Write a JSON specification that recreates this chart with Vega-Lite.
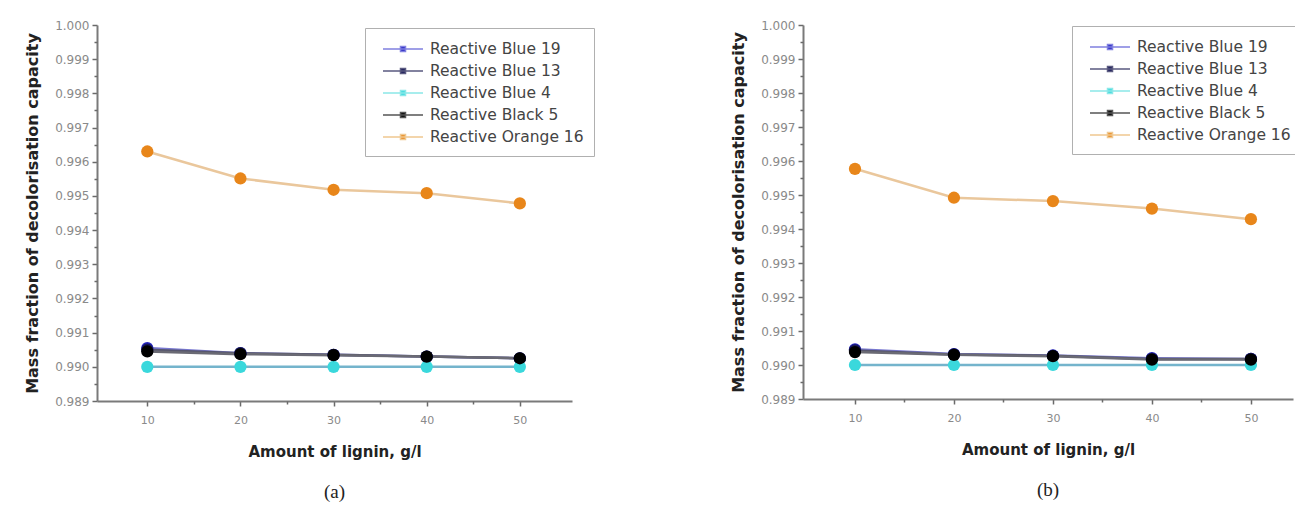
{
  "$schema": "https://vega.github.io/schema/vega-lite/v6.json",
  "padding": {"left": 24, "top": 19, "right": 0, "bottom": 0},
  "background": "white",
  "spacing": 135,
  "config": {
    "view": {"stroke": null},
    "font": "DejaVu Sans",
    "axis": {
      "domainColor": "#7a7a7a",
      "domainWidth": 2,
      "tickColor": "#6a6a6a",
      "tickWidth": 1.5,
      "grid": false,
      "labelFont": "DejaVu Sans",
      "labelColor": "#8a8a8a",
      "labelFontSize": 12,
      "titleFont": "DejaVu Sans",
      "titleColor": "#222222",
      "titleFontWeight": "bold"
    }
  },
  "datasets": {
    "a": [
      {"lignin": 10, "dye": "Reactive Blue 19", "value": 0.99055},
      {"lignin": 20, "dye": "Reactive Blue 19", "value": 0.9904},
      {"lignin": 30, "dye": "Reactive Blue 19", "value": 0.99035},
      {"lignin": 40, "dye": "Reactive Blue 19", "value": 0.9903},
      {"lignin": 50, "dye": "Reactive Blue 19", "value": 0.99025},
      {"lignin": 10, "dye": "Reactive Blue 13", "value": 0.9905},
      {"lignin": 20, "dye": "Reactive Blue 13", "value": 0.9904},
      {"lignin": 30, "dye": "Reactive Blue 13", "value": 0.99035},
      {"lignin": 40, "dye": "Reactive Blue 13", "value": 0.9903},
      {"lignin": 50, "dye": "Reactive Blue 13", "value": 0.99025},
      {"lignin": 10, "dye": "Reactive Blue 4", "value": 0.99},
      {"lignin": 20, "dye": "Reactive Blue 4", "value": 0.99},
      {"lignin": 30, "dye": "Reactive Blue 4", "value": 0.99},
      {"lignin": 40, "dye": "Reactive Blue 4", "value": 0.99},
      {"lignin": 50, "dye": "Reactive Blue 4", "value": 0.99},
      {"lignin": 10, "dye": "Reactive Black 5", "value": 0.99045},
      {"lignin": 20, "dye": "Reactive Black 5", "value": 0.99037},
      {"lignin": 30, "dye": "Reactive Black 5", "value": 0.99034},
      {"lignin": 40, "dye": "Reactive Black 5", "value": 0.9903},
      {"lignin": 50, "dye": "Reactive Black 5", "value": 0.99025},
      {"lignin": 10, "dye": "Reactive Orange 16", "value": 0.9963},
      {"lignin": 20, "dye": "Reactive Orange 16", "value": 0.99551},
      {"lignin": 30, "dye": "Reactive Orange 16", "value": 0.99518},
      {"lignin": 40, "dye": "Reactive Orange 16", "value": 0.99508},
      {"lignin": 50, "dye": "Reactive Orange 16", "value": 0.99478}
    ],
    "b": [
      {"lignin": 10, "dye": "Reactive Blue 19", "value": 0.99046},
      {"lignin": 20, "dye": "Reactive Blue 19", "value": 0.99032},
      {"lignin": 30, "dye": "Reactive Blue 19", "value": 0.99028},
      {"lignin": 40, "dye": "Reactive Blue 19", "value": 0.9902},
      {"lignin": 50, "dye": "Reactive Blue 19", "value": 0.99018},
      {"lignin": 10, "dye": "Reactive Blue 13", "value": 0.99043},
      {"lignin": 20, "dye": "Reactive Blue 13", "value": 0.99031},
      {"lignin": 30, "dye": "Reactive Blue 13", "value": 0.99027},
      {"lignin": 40, "dye": "Reactive Blue 13", "value": 0.99018},
      {"lignin": 50, "dye": "Reactive Blue 13", "value": 0.99018},
      {"lignin": 10, "dye": "Reactive Blue 4", "value": 0.99},
      {"lignin": 20, "dye": "Reactive Blue 4", "value": 0.99},
      {"lignin": 30, "dye": "Reactive Blue 4", "value": 0.99},
      {"lignin": 40, "dye": "Reactive Blue 4", "value": 0.99},
      {"lignin": 50, "dye": "Reactive Blue 4", "value": 0.99},
      {"lignin": 10, "dye": "Reactive Black 5", "value": 0.99038},
      {"lignin": 20, "dye": "Reactive Black 5", "value": 0.9903},
      {"lignin": 30, "dye": "Reactive Black 5", "value": 0.99026},
      {"lignin": 40, "dye": "Reactive Black 5", "value": 0.99016},
      {"lignin": 50, "dye": "Reactive Black 5", "value": 0.99016},
      {"lignin": 10, "dye": "Reactive Orange 16", "value": 0.99577},
      {"lignin": 20, "dye": "Reactive Orange 16", "value": 0.99492},
      {"lignin": 30, "dye": "Reactive Orange 16", "value": 0.99482},
      {"lignin": 40, "dye": "Reactive Orange 16", "value": 0.9946},
      {"lignin": 50, "dye": "Reactive Orange 16", "value": 0.99429}
    ]
  },
  "resolve": {"scale": {"color": "independent"}, "legend": {"color": "independent"}},
  "hconcat": [
    {
      "width": 475,
      "height": 376,
      "data": {"name": "a"},
      "title": {"text": "(a)", "orient": "bottom", "font": "Liberation Serif", "fontSize": 19, "fontWeight": "normal", "color": "#222222", "offset": 24},
      "resolve": {"axis": {"x": "independent", "y": "independent"}, "scale": {"color": "independent"}, "legend": {"color": "independent"}},
      "layer": [
        {
          "mark": {"type": "line", "strokeWidth": 2.5, "opacity": 1},
          "encoding": {
            "x": {"field": "lignin", "type": "quantitative", "scale": {"domain": [4.6, 55.6], "nice": false, "zero": false},
              "axis": {"values": [10, 20, 30, 40, 50], "title": "Amount of lignin, g/l", "titleFontSize": 15, "labelFontSize": 11, "labelPadding": 8, "titlePadding": 19, "tickSize": 5}},
            "y": {"field": "value", "type": "quantitative", "scale": {"domain": [0.989, 1.0], "nice": false, "zero": false},
              "axis": {"values": [0.989, 0.99, 0.991, 0.992, 0.993, 0.994, 0.995, 0.996, 0.997, 0.998, 0.999, 1.0], "format": ".3f", "title": "Mass fraction of decolorisation capacity", "titleFontSize": 16, "labelPadding": 3, "titlePadding": 14, "tickSize": 5}},
            "color": {"field": "dye", "type": "nominal", "legend": null,
              "scale": {"domain": ["Reactive Blue 19", "Reactive Blue 13", "Reactive Blue 4", "Reactive Black 5", "Reactive Orange 16"], "range": ["#7878d0", "#56566e", "#74b4cc", "#6a6a74", "#eac79c"]}}
          }
        },
        {
          "mark": {"type": "point", "filled": true, "shape": "circle", "size": 150, "opacity": 1},
          "encoding": {
            "x": {"field": "lignin", "type": "quantitative",
              "axis": {"orient": "bottom", "values": [15, 25, 35, 45], "labels": false, "domain": false, "title": null, "tickSize": 3}},
            "y": {"field": "value", "type": "quantitative",
              "axis": {"orient": "left", "values": [0.9895, 0.9905, 0.9915, 0.9925, 0.9935, 0.9945, 0.9955, 0.9965, 0.9975, 0.9985, 0.9995], "labels": false, "domain": false, "title": null, "tickSize": 3}},
            "color": {"field": "dye", "type": "nominal",
              "scale": {"domain": ["Reactive Blue 19", "Reactive Blue 13", "Reactive Blue 4", "Reactive Black 5", "Reactive Orange 16"], "range": ["#2424c0", "#181858", "#3ad8dc", "#000000", "#e8861a"]},
              "legend": {
                "orient": "none", "legendX": 268, "legendY": 3, "title": null,
                "strokeColor": "#b0b0b0", "fillColor": "white", "padding": 10,
                "labelFont": "DejaVu Sans", "labelFontSize": 15.5, "labelColor": "#444444", "labelOffset": 33,
                "rowPadding": 2, "symbolSize": 400, "symbolStrokeWidth": 1.5,
                "symbolStrokeColor": {"expr": "datum.value === 'Reactive Blue 19' ? '#8080e0' : datum.value === 'Reactive Blue 13' ? '#5a5a80' : datum.value === 'Reactive Blue 4' ? '#8ae8e8' : datum.value === 'Reactive Black 5' ? '#555555' : '#f0c890'"},
                "symbolType": "M-0.3,0L3.7,0M1.45,-0.25L1.95,-0.25L1.95,0.25L1.45,0.25Z"
              }}
          }
        }
      ]
    },
    {
      "width": 490,
      "height": 374,
      "data": {"name": "b"},
      "title": {"text": "(b)", "orient": "bottom", "font": "Liberation Serif", "fontSize": 19, "fontWeight": "normal", "color": "#222222", "offset": 24},
      "resolve": {"axis": {"x": "independent", "y": "independent"}, "scale": {"color": "independent"}, "legend": {"color": "independent"}},
      "layer": [
        {
          "mark": {"type": "line", "strokeWidth": 2.5, "opacity": 1},
          "encoding": {
            "x": {"field": "lignin", "type": "quantitative", "scale": {"domain": [4.75, 54.25], "nice": false, "zero": false},
              "axis": {"values": [10, 20, 30, 40, 50], "title": "Amount of lignin, g/l", "titleFontSize": 15, "labelFontSize": 11, "labelPadding": 8, "titlePadding": 19, "tickSize": 5}},
            "y": {"field": "value", "type": "quantitative", "scale": {"domain": [0.989, 1.0], "nice": false, "zero": false},
              "axis": {"values": [0.989, 0.99, 0.991, 0.992, 0.993, 0.994, 0.995, 0.996, 0.997, 0.998, 0.999, 1.0], "format": ".3f", "title": "Mass fraction of decolorisation capacity", "titleFontSize": 16, "labelPadding": 3, "titlePadding": 14, "tickSize": 5}},
            "color": {"field": "dye", "type": "nominal", "legend": null,
              "scale": {"domain": ["Reactive Blue 19", "Reactive Blue 13", "Reactive Blue 4", "Reactive Black 5", "Reactive Orange 16"], "range": ["#7878d0", "#56566e", "#74b4cc", "#6a6a74", "#eac79c"]}}
          }
        },
        {
          "mark": {"type": "point", "filled": true, "shape": "circle", "size": 150, "opacity": 1},
          "encoding": {
            "x": {"field": "lignin", "type": "quantitative",
              "axis": {"orient": "bottom", "values": [15, 25, 35, 45], "labels": false, "domain": false, "title": null, "tickSize": 3}},
            "y": {"field": "value", "type": "quantitative",
              "axis": {"orient": "left", "values": [0.9895, 0.9905, 0.9915, 0.9925, 0.9935, 0.9945, 0.9955, 0.9965, 0.9975, 0.9985, 0.9995], "labels": false, "domain": false, "title": null, "tickSize": 3}},
            "color": {"field": "dye", "type": "nominal",
              "scale": {"domain": ["Reactive Blue 19", "Reactive Blue 13", "Reactive Blue 4", "Reactive Black 5", "Reactive Orange 16"], "range": ["#2424c0", "#181858", "#3ad8dc", "#000000", "#e8861a"]},
              "legend": {
                "orient": "none", "legendX": 269, "legendY": 1, "title": null,
                "strokeColor": "#b0b0b0", "fillColor": "white", "padding": 10,
                "labelFont": "DejaVu Sans", "labelFontSize": 15.5, "labelColor": "#444444", "labelOffset": 33,
                "rowPadding": 2, "symbolSize": 400, "symbolStrokeWidth": 1.5,
                "symbolStrokeColor": {"expr": "datum.value === 'Reactive Blue 19' ? '#8080e0' : datum.value === 'Reactive Blue 13' ? '#5a5a80' : datum.value === 'Reactive Blue 4' ? '#8ae8e8' : datum.value === 'Reactive Black 5' ? '#555555' : '#f0c890'"},
                "symbolType": "M-0.3,0L3.7,0M1.45,-0.25L1.95,-0.25L1.95,0.25L1.45,0.25Z"
              }}
          }
        }
      ]
    }
  ]
}
